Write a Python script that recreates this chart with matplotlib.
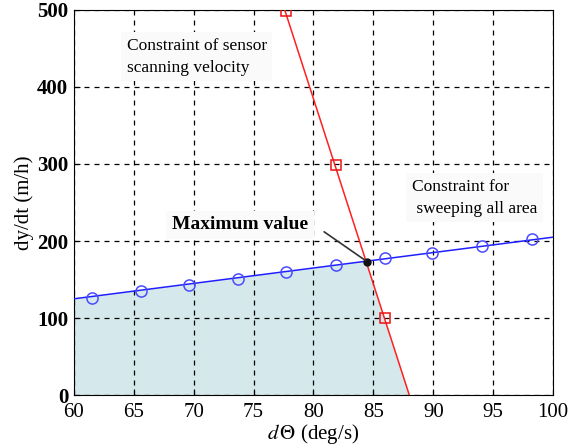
import numpy as np
import matplotlib.pyplot as plt

plt.rcParams['font.family'] = ['Liberation Serif', 'DejaVu Serif']
plt.rcParams['mathtext.fontset'] = 'stix'

# constraint for sweeping all area (blue)
blue_line_x = [60, 100]
blue_line_y = [125, 205]
blue_mark_x = [61.5, 65.6, 69.6, 73.7, 77.7, 81.9, 86.0, 89.9, 94.1, 98.2]
blue_mark_y = [126, 135, 143, 151, 160, 169, 178, 184, 193, 202]

# constraint of sensor scanning velocity (red)
red_line_x = [77.6, 88.0]
red_line_y = [500, 0]
red_mark_x = [77.7, 81.9, 86.0]
red_mark_y = [498, 298, 100]

# maximum point
max_x = 84.5
max_y = 173

fig = plt.figure(figsize=(5.72, 4.46), dpi=100)
ax = fig.add_axes([0.129, 0.114, 0.838, 0.864])

# feasible region under both constraints
xs = np.linspace(60, 100, 801)
yb = np.interp(xs, blue_line_x, blue_line_y)
yr = np.interp(xs, red_line_x, red_line_y, left=1e9, right=0)
ax.fill_between(xs, 0, np.minimum(yb, yr), color='#d5e9ec', lw=0, zorder=1)

ax.plot(blue_line_x, blue_line_y, color='#1f1fff', lw=1.1, zorder=3)
ax.plot(blue_mark_x, blue_mark_y, 'o', mfc='none', mec='#4a4aff', ms=8, mew=1.1, zorder=4)
ax.plot(red_line_x, red_line_y, color='#ff2020', lw=1.1, zorder=3)
ax.plot(red_mark_x, red_mark_y, 's', mfc='none', mec='#ee1111', ms=7, mew=1.1, zorder=4)
ax.plot([max_x], [max_y], 'o', color='#111111', ms=5, zorder=5)

ax.set_xlim(60, 100)
ax.set_ylim(0, 500)
ax.set_xticks(range(60, 101, 5))
ax.set_yticks(range(0, 501, 100))
ax.grid(True, color='black', ls=(0, (4, 4)), lw=0.9, zorder=2)
ax.set_axisbelow(False)
for lab in ax.get_xticklabels():
    lab.set_fontsize(15)
for lab in ax.get_yticklabels():
    lab.set_fontsize(15)
    lab.set_fontweight('bold')
ax.tick_params(direction='in', length=4, pad=4)
ax.tick_params(axis='x', pad=6)

ax.set_xlabel(r'$d\,\mathit{\Theta}$' + ' (deg/s)', fontsize=15, labelpad=0)
ax.set_ylabel('dy/dt (m/h)', fontsize=15, labelpad=2)

box = dict(facecolor='#fafafa', edgecolor='none', pad=4)
ax.text(64.4, 439, 'Constraint of sensor\nscanning velocity', fontsize=12.5,
        va='center', ha='left', linespacing=1.5, bbox=box, zorder=6)
ax.text(88.2, 256, 'Constraint for\n sweeping all area', fontsize=12.5,
        va='center', ha='left', linespacing=1.5, bbox=box, zorder=6)
ax.text(68.2, 221, 'Maximum value', fontsize=14, fontweight='bold',
        va='center', ha='left', bbox=box, zorder=6)
ax.annotate('', xy=(max_x, max_y), xytext=(80.7, 214),
            arrowprops=dict(arrowstyle='-', color='#333333', lw=1.2), zorder=6)

fig.savefig('out.png', dpi=100)
